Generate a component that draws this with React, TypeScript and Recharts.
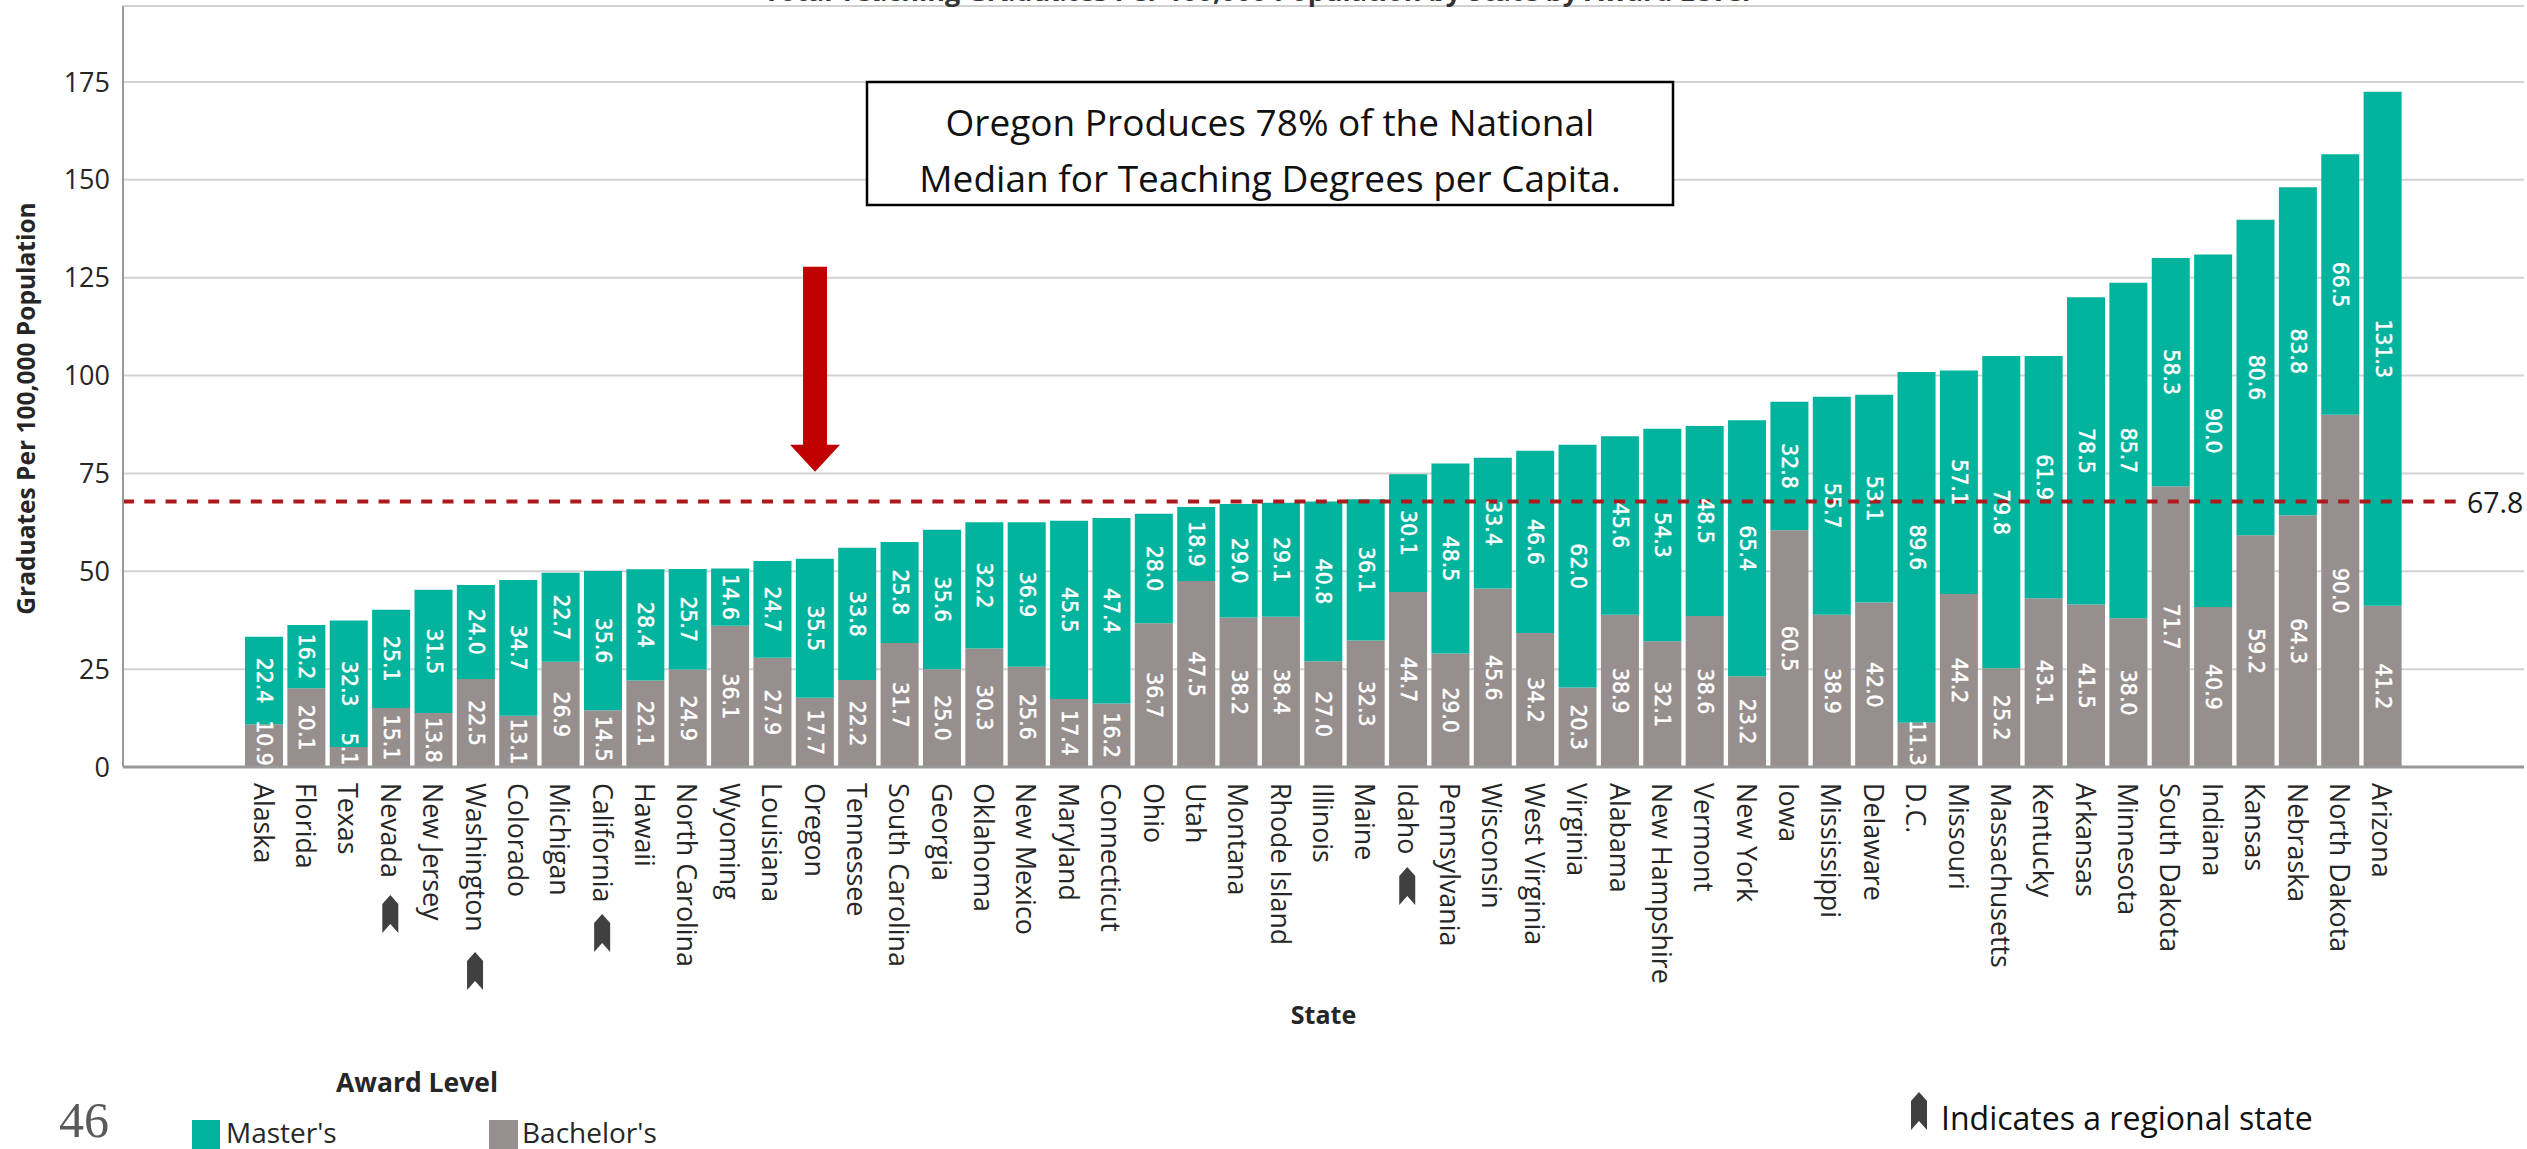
import React from 'react'
import { BarChart, Bar, XAxis, YAxis, CartesianGrid, ReferenceLine, ReferenceDot, LabelList } from 'recharts'

const states = [
  'Alaska', 'Florida', 'Texas', 'Nevada', 'New Jersey', 'Washington', 'Colorado', 'Michigan', 'California',
  'Hawaii', 'North Carolina', 'Wyoming', 'Louisiana', 'Oregon', 'Tennessee', 'South Carolina', 'Georgia',
  'Oklahoma', 'New Mexico', 'Maryland', 'Connecticut', 'Ohio', 'Utah', 'Montana', 'Rhode Island', 'Illinois',
  'Maine', 'Idaho', 'Pennsylvania', 'Wisconsin', 'West Virginia', 'Virginia', 'Alabama', 'New Hampshire',
  'Vermont', 'New York', 'Iowa', 'Mississippi', 'Delaware', 'D.C.', 'Missouri', 'Massachusetts', 'Kentucky',
  'Arkansas', 'Minnesota', 'South Dakota', 'Indiana', 'Kansas', 'Nebraska', 'North Dakota', 'Arizona',
]
const masters = [
  22.4, 16.2, 32.3, 25.1, 31.5, 24.0, 34.7, 22.7, 35.6, 28.4, 25.7, 14.6, 24.7, 35.5, 33.8, 25.8, 35.6,
  32.2, 36.9, 45.5, 47.4, 28.0, 18.9, 29.0, 29.1, 40.8, 36.1, 30.1, 48.5, 33.4, 46.6, 62.0, 45.6, 54.3,
  48.5, 65.4, 32.8, 55.7, 53.1, 89.6, 57.1, 79.8, 61.9, 78.5, 85.7, 58.3, 90.0, 80.6, 83.8, 66.5, 131.3,
]
const bachelors = [
  10.9, 20.1, 5.1, 15.1, 13.8, 22.5, 13.1, 26.9, 14.5, 22.1, 24.9, 36.1, 27.9, 17.7, 22.2, 31.7, 25.0,
  30.3, 25.6, 17.4, 16.2, 36.7, 47.5, 38.2, 38.4, 27.0, 32.3, 44.7, 29.0, 45.6, 34.2, 20.3, 38.9, 32.1,
  38.6, 23.2, 60.5, 38.9, 42.0, 11.3, 44.2, 25.2, 43.1, 41.5, 38.0, 71.7, 40.9, 59.2, 64.3, 90.0, 41.2,
]
const yTicks = [0, 25, 50, 75, 100, 125, 150, 175]
const median = 67.8

// how far below the axis the regional marker sits, past the end of the state name
const regionalMarks: Record<string, number> = { Nevada: 122, Washington: 179, California: 141, Idaho: 94 }

const chartData = states.map((state, i) => ({ state, masters: masters[i], bachelors: bachelors[i] }))

const TEAL = '#02b39d'
const GRAY = '#968f8e'
const SANS = '"Open Sans", sans-serif'

function Bookmark({ x, y }: { x: number; y: number }) {
  return <path d={`M${x + 8} ${y}L${x + 16} ${y + 9}V${y + 38}L${x + 8} ${y + 29}L${x} ${y + 38}V${y + 9}Z`} fill="#404040" />
}

function StateTick({ x, y, payload }: any) {
  const markOffset = regionalMarks[payload.value]
  return (
    <g>
      <text x={x} y={y + 8} transform={`rotate(90 ${x} ${y + 8})`} dominantBaseline="central" fontFamily={SANS} fontSize={26.8} fill="#262626">
        {payload.value}
      </text>
      {markOffset !== undefined && <Bookmark x={x - 9} y={y + markOffset - 2} />}
    </g>
  )
}

function ValueLabel({ x, y, width, height, value }: any) {
  const text = Number(value).toFixed(1)
  const halfLength = text.length > 3 ? 23 : 17
  const cx = x + width / 2
  // short segments push the number up off the baseline
  const cy = Math.min(y + height / 2, y + height - halfLength - 1)
  return (
    <text x={cx} y={cy} transform={`rotate(90 ${cx} ${cy})`} textAnchor="middle" dominantBaseline="central" fontFamily='"DejaVu Sans", sans-serif' fontSize={20.5} fill="#ffffff" stroke="#ffffff" strokeWidth={0.5}>
      {text}
    </text>
  )
}

function DownArrow({ cx, cy }: any) {
  return <path d={`M${cx} ${cy}L${cx - 25} ${cy - 27}H${cx - 12}V${cy - 205}H${cx + 12}V${cy - 27}H${cx + 25}Z`} fill="#c00000" />
}

function MedianLabel({ viewBox }: any) {
  const right = viewBox.x + viewBox.width
  return (
    <g>
      <rect x={right - 58} y={viewBox.y - 18} width={57} height={36} fill="#ffffff" />
      <text x={right - 57} y={viewBox.y} dominantBaseline="central" fontFamily={SANS} fontSize={28.5} fill="#1a1a1a">
        {median}
      </text>
    </g>
  )
}

export default function App() {
  return (
    <div style={{ position: 'absolute', left: 0, top: 0, width: 2527, height: 1149, overflow: 'hidden', background: '#fff' }}>
      <BarChart width={2527} height={1149} data={chartData} margin={{ top: 6, right: 3, bottom: 0, left: 0 }} barSize={38}>
        <CartesianGrid vertical={false} stroke="#d2d2d2" strokeWidth={2} />
        <XAxis
          dataKey="state"
          height={382}
          interval={0}
          padding={{ left: 120, right: 120 }}
          tickLine={false}
          axisLine={{ stroke: '#999999', strokeWidth: 3 }}
          tick={<StateTick />}
          label={{ value: 'State', position: 'insideBottom', offset: 125, style: { fontFamily: SANS, fontWeight: 700, fontSize: 25, fill: '#262626' } }}
        />
        <YAxis
          type="number"
          width={123}
          domain={[0, 194.4]}
          ticks={yTicks}
          interval={0}
          tickLine={false}
          tickMargin={7}
          axisLine={{ stroke: '#999999', strokeWidth: 2 }}
          tick={{ fontFamily: SANS, fontSize: 27, fill: '#262626' }}
          label={{ value: 'Graduates Per 100,000 Population', angle: -90, position: 'insideLeft', offset: 26, dy: 22, style: { textAnchor: 'middle', fontFamily: SANS, fontWeight: 700, fontSize: 24.5, fill: '#262626' } }}
        />
        <Bar dataKey="bachelors" name="Bachelor's" stackId="award" fill={GRAY} isAnimationActive={false}>
          <LabelList dataKey="bachelors" content={<ValueLabel />} />
        </Bar>
        <Bar dataKey="masters" name="Master's" stackId="award" fill={TEAL} isAnimationActive={false}>
          <LabelList dataKey="masters" content={<ValueLabel />} />
        </Bar>
        <ReferenceLine y={median} stroke="#ad1a1e" strokeWidth={4} strokeDasharray="11 10.3" label={<MedianLabel />} />
        <ReferenceDot x="Oregon" y={75.4} r={1} ifOverflow="visible" shape={<DownArrow />} />
      </BarChart>

      <svg width={2527} height={1149} style={{ position: 'absolute', left: 0, top: 0, pointerEvents: 'none' }}>
        <text x={1257} y={1} textAnchor="middle" fontFamily={SANS} fontWeight={700} fontSize={27} fill="#333333">
          Total Teaching Graduates Per 100,000 Population by State by Award Level
        </text>

        <rect x={867} y={82} width={806} height={123} fill="#ffffff" stroke="#000000" strokeWidth={2.5} />
        <text x={1270} y={121} textAnchor="middle" dominantBaseline="central" fontFamily={SANS} fontSize={37} fill="#111111">
          Oregon Produces 78% of the National
        </text>
        <text x={1270} y={177} textAnchor="middle" dominantBaseline="central" fontFamily={SANS} fontSize={37} fill="#111111">
          Median for Teaching Degrees per Capita.
        </text>

        <text x={84} y={1137} textAnchor="middle" fontFamily='"Liberation Serif", serif' fontSize={50} fill="#595959">46</text>

        <text x={417} y={1082} textAnchor="middle" dominantBaseline="central" fontFamily={SANS} fontWeight={700} fontSize={26.5} fill="#262626">Award Level</text>
        <rect x={192} y={1120} width={28} height={29} fill={TEAL} />
        <text x={226} y={1132} dominantBaseline="central" fontFamily={SANS} fontSize={28} fill="#262626">Master's</text>
        <rect x={489} y={1120} width={29} height={29} fill={GRAY} />
        <text x={522} y={1132} dominantBaseline="central" fontFamily={SANS} fontSize={28} fill="#262626">Bachelor's</text>

        <Bookmark x={1911} y={1092} />
        <text x={1941} y={1130} fontFamily={SANS} fontSize={32} fill="#111111">Indicates a regional state</text>
      </svg>
    </div>
  )
}
